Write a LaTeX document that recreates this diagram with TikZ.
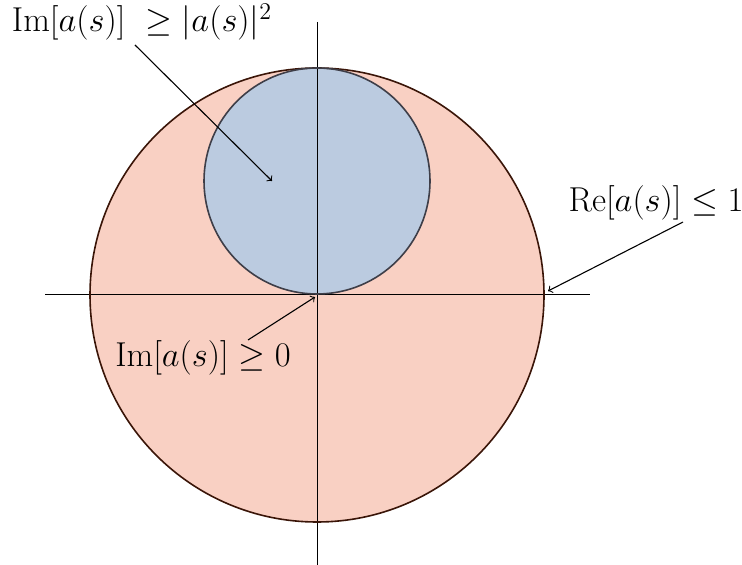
\documentclass[tikz,border=0pt]{standalone}
\usepackage{amsmath}
\begin{document}
\begin{tikzpicture}[x=0.5pt,y=-0.5pt,
  lbl/.style={font=\fontsize{16.4}{19}\selectfont, inner sep=0pt},
  axis/.style={line width=0.5pt, black},
  pointer/.style={->, line width=0.55pt, black}]
\useasboundingbox (0,0) rectangle (742,565);
\definecolor{bigfill}{HTML}{F9D0C3}
\definecolor{bigline}{HTML}{3A1508}
\definecolor{smallfill}{HTML}{BBCBE0}
\definecolor{smallline}{HTML}{3E3E48}
\coordinate (O) at (317,295);
\coordinate (C) at (317,181);
\fill[bigfill] (O) circle[radius=113.5pt];
\fill[smallfill] (C) circle[radius=56.5pt];
\draw[axis] (45,295) -- (590,295);
\draw[axis] (317,22) -- (317,565);
\draw[bigline, line width=0.8pt] (O) circle[radius=113.5pt];
\draw[smallline, line width=0.8pt] (C) circle[radius=56.5pt];
\node[lbl] (t1) at (142,22) {$\mathrm{Im}[a(s)]$\hspace{10pt}$\geq |a(s)|^2$};
\node[lbl] (t2) at (656,203) {$\mathrm{Re}[a(s)] \leq 1$};
\node[lbl] (t3) at (203,358) {$\mathrm{Im}[a(s)] \geq 0$};
\coordinate (a1s) at (135,45);
\coordinate (a1e) at (272,181);
\coordinate (a2s) at (683,222);
\coordinate (a2e) at (548,291);
\coordinate (a3s) at (248,340);
\coordinate (a3e) at (315,297);
\draw[pointer] (a1s) -- (a1e);
\draw[pointer] (a2s) -- (a2e);
\draw[pointer] (a3s) -- (a3e);
\end{tikzpicture}
\end{document}
